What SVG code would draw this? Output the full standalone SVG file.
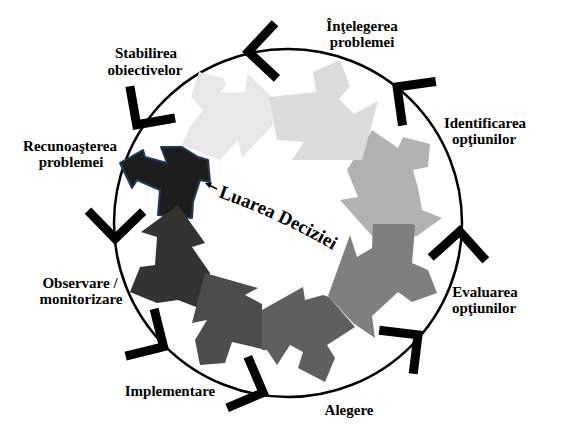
<svg xmlns="http://www.w3.org/2000/svg" xmlns:xlink="http://www.w3.org/1999/xlink" width="565" height="436" viewBox="0 0 565 436">
<style>
.lbl{font-family:"Liberation Serif","Times New Roman",serif;font-weight:bold;font-size:15px;fill:#000;text-anchor:middle}
.ctr{font-family:"Liberation Serif","Times New Roman",serif;font-weight:bold;font-size:19px;fill:#000}
.ring{fill:none;stroke:#000;stroke-width:2.5}
.chev{fill:#000}
</style>
<defs>
<polygon id="chev" points="0,0 -30.8,-30.8 -37.2,-24.4 -12.7,0 -37.2,24.4 -30.8,30.8"/>
<path id="curve" d="M218,197 Q278,218 338,253"/>
</defs>
<rect width="565" height="436" fill="#fff"/>
<g id="connectors">
<circle class="ring" cx="288" cy="223" r="174"/>
<use href="#chev" class="chev" transform="translate(242,52) rotate(178)"/>
<use href="#chev" class="chev" transform="translate(133,130) rotate(125)"/>
<use href="#chev" class="chev" transform="translate(115,245) rotate(91)"/>
<use href="#chev" class="chev" transform="translate(169,350) rotate(31)"/>
<use href="#chev" class="chev" transform="translate(269,395) rotate(22)"/>
<use href="#chev" class="chev" transform="translate(423,331) rotate(-38)"/>
<use href="#chev" class="chev" transform="translate(460,225) rotate(-87)"/>
<use href="#chev" class="chev" transform="translate(392,83) rotate(-143)"/>
</g>
<g id="seg-identificarea">
<polygon fill="#b2b2b2" points="372,130 398,148 403,137 430,144 428,167 413,170 418,188 422,210 442,218 417,236 380,238 373,237 340,200 358,197 347,170"/>
<text class="lbl" x="485" y="128">Identificarea</text>
<text class="lbl" x="484" y="144">opţiunilor</text>
</g>
<g id="seg-stabilirea">
<polygon fill="#e8e8e8" points="182,145 190,127 203,110 191,97 199,72 224,78 226,85 220,93 245,92 247,73 272,97 273,125 242,158 238,140 220,160"/>
<text class="lbl" x="146" y="58">Stabilirea</text>
<text class="lbl" x="145" y="75">obiectivelor</text>
</g>
<g id="seg-intelegerea">
<polygon fill="#dcdcdc" points="269,97 316,92 313,72 340,60 350,86 339,99 354,114 378,101 362,160 292,160 304,142 277,140"/>
<text class="lbl" x="362" y="31">Înţelegerea</text>
<text class="lbl" x="362" y="47">problemei</text>
</g>
<g id="seg-alegere">
<polygon fill="#5f5f5f" points="262,310 303,287 305,300 323,295 329,297 355,327 327,345 335,358 325,382 298,368 303,352 290,345 277,365 267,350 262,350"/>
<text class="lbl" x="349" y="415">Alegere</text>
</g>
<g id="seg-evaluarea">
<path fill="#7f7f7f" d="M373,224 L412,224 Q416,224 415,228 L412,263 L428,270 L437,293 L412,302 L398,292 L372,316 L375,338 L353,323 L328,296 L350,235 L357,257 L372,248 Z"/>
<text class="lbl" x="485" y="297">Evaluarea</text>
<text class="lbl" x="484" y="313">opţiunilor</text>
</g>
<g id="seg-recunoasterea">
<polygon fill="#1c1c1c" stroke="#1f3a5c" stroke-width="2" stroke-linejoin="round" points="120,163 143,150 145,157 167,163 161,147 182,147 198,157 208,160 210,182 200,180 193,202 192,218 158,215 160,190 137,180 132,188"/>
<text class="lbl" x="70" y="151">Recunoaşterea</text>
<text class="lbl" x="71" y="167">problemei</text>
</g>
<g id="seg-observare">
<polygon fill="#333333" points="178,205 205,243 192,247 210,273 205,300 196,307 178,300 157,303 130,292 140,267 155,265 157,237 141,232"/>
<text class="lbl" x="80" y="288">Observare /</text>
<text class="lbl" x="81" y="304">monitorizare</text>
</g>
<g id="seg-implementare">
<polygon fill="#4c4c4c" points="205,273 258,288 245,295 262,304 262,349 232,342 225,363 200,365 195,340 207,320 192,323"/>
<text class="lbl" x="170" y="396">Implementare</text>
</g>
<g id="center">
<line x1="217" y1="189" x2="210" y2="185.5" stroke="#000" stroke-width="1.5"/>
<polygon points="205,183 212,182.5 209.5,188" fill="#000"/>
<text class="ctr"><textPath href="#curve">Luarea Deciziei</textPath></text>
</g>
</svg>
